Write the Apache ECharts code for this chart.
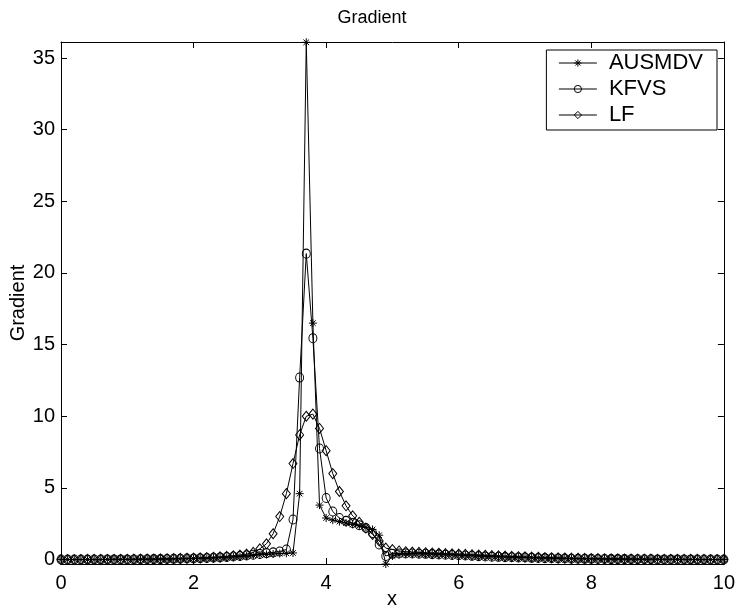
<!DOCTYPE html>
<html><head><meta charset="utf-8">
<script src="https://cdn.jsdelivr.net/npm/echarts@6/dist/echarts.min.js"></script>
<style>html,body{margin:0;padding:0;background:#fff}#c{width:738px;height:614px}</style>
</head><body><div id="c"></div>
<script>
var xs = [0,0.1,0.2,0.3,0.4,0.5,0.6,0.7,0.8,0.9,1,1.1,1.2,1.3,1.4,1.5,1.6,1.7,1.8,1.9,2,2.1,2.2,2.3,2.4,2.5,2.6,2.7,2.8,2.9,3,3.1,3.2,3.3,3.4,3.5,3.6,3.7,3.8,3.9,4,4.1,4.2,4.3,4.4,4.5,4.6,4.7,4.8,4.9,5,5.1,5.2,5.3,5.4,5.5,5.6,5.7,5.8,5.9,6,6.1,6.2,6.3,6.4,6.5,6.6,6.7,6.8,6.9,7,7.1,7.2,7.3,7.4,7.5,7.6,7.7,7.8,7.9,8,8.1,8.2,8.3,8.4,8.5,8.6,8.7,8.8,8.9,9,9.1,9.2,9.3,9.4,9.5,9.6,9.7,9.8,9.9,10];
var ausmdv = [0,0,0,0,0,0,0,0.01,0.01,0.01,0.01,
  0.01,0.02,0.02,0.02,0.03,0.03,0.04,0.05,0.06,0.07,
  0.08,0.09,0.11,0.13,0.15,0.18,0.21,0.25,0.29,0.33,
  0.36,0.39,0.42,0.44,0.46,
  4.6,36.1,16.5,3.8,2.9,2.75,2.65,2.55,2.45,2.35,2.25,2.1,1.7,-0.31,
  0.25,0.35,0.4,0.42,0.42,0.41,0.4,0.38,0.36,0.34,0.32,
  0.3,0.28,0.26,0.24,0.22,0.2,0.19,0.17,0.16,0.15,
  0.13,0.12,0.11,0.1,0.09,0.08,0.07,0.06,0.06,0.05,
  0.05,0.04,0.04,0.03,0.03,0.03,0.02,0.02,0.02,0.02,
  0.01,0.01,0.01,0.01,0.01,0.01,0,0,0,0];
var kfvs = [0,0,0,0,0,0,0,0.01,0.01,0.01,0.01,
  0.01,0.02,0.02,0.03,0.03,0.04,0.05,0.06,0.07,0.08,
  0.09,0.11,0.13,0.15,0.18,0.21,0.25,0.29,0.34,0.39,
  0.45,0.5,0.56,0.7,2.8,
  12.7,21.35,15.45,7.75,4.3,3.35,2.9,2.7,2.55,2.4,2.2,1.85,1.05,0.25,
  0.4,0.42,0.43,0.42,0.41,0.4,0.38,0.36,0.34,0.32,0.3,
  0.28,0.26,0.24,0.22,0.2,0.19,0.17,0.16,0.15,0.14,
  0.12,0.11,0.1,0.09,0.08,0.07,0.06,0.06,0.05,0.05,
  0.04,0.04,0.03,0.03,0.03,0.02,0.02,0.02,0.02,0.01,
  0.01,0.01,0.01,0.01,0.01,0,0,0,0,0];
var lf = [0,0,0,0,0.01,0.01,0.01,0.01,0.02,0.02,0.02,
  0.03,0.03,0.04,0.04,0.05,0.06,0.07,0.08,0.09,0.1,
  0.12,0.14,0.16,0.19,0.22,0.26,0.31,0.38,0.5,0.75,
  1.1,1.8,3.0,4.6,6.7,
  8.7,10.0,10.15,9.15,7.6,6.0,4.75,3.75,3.05,2.6,2.2,1.75,1.3,0.8,
  0.7,0.6,0.55,0.52,0.5,0.48,0.46,0.44,0.42,0.4,0.38,
  0.36,0.34,0.32,0.3,0.28,0.26,0.24,0.22,0.2,0.19,
  0.17,0.16,0.14,0.13,0.12,0.11,0.1,0.09,0.08,0.07,
  0.07,0.06,0.05,0.05,0.04,0.04,0.03,0.03,0.03,0.02,
  0.02,0.02,0.02,0.01,0.01,0.01,0.01,0,0,0];
var seriesNames = ['AUSMDV','KFVS','LF'];
var xTicks = [0,2,4,6,8,10];
var yTicks = [0,5,10,15,20,25,30,35];

function pairs(v){ return xs.map(function(x,i){ return [x, v[i]]; }); }
var FONT = '"Liberation Sans", Arial, Helvetica, sans-serif';
var chart = echarts.init(document.getElementById('c'), null, {renderer:'canvas'});
var tickCommon = {show:true, inside:true, length:6, lineStyle:{color:'#000', width:1}};
var lineCommon = {show:true, onZero:false, lineStyle:{color:'#000', width:1}};
var asterisk = 'path://M0,-4L0,4M-4,0L4,0M-2.8,-2.8L2.8,2.8M-2.8,2.8L2.8,-2.8';
var symbols = [asterisk, 'circle', 'diamond'];
var sizes = [8, [8,9], [8,10]];
function mk(i, data){
  return {name:seriesNames[i], type:'line', data:pairs(data), symbol:symbols[i], symbolSize:sizes[i],
    showAllSymbol:true, animation:false,
    lineStyle:{color:'#000', width:1},
    itemStyle:{color:'rgba(0,0,0,0)', borderColor:'#000', borderWidth:1},
    emphasis:{disabled:true}};
}
chart.setOption({
  animation:false,
  backgroundColor:'#fff',
  textStyle:{fontFamily:FONT},
  grid:{left:61, top:42, right:14, bottom:50},
  legend:{
    data:seriesNames,
    orient:'vertical', right:21, top:50,
    backgroundColor:'#fff', borderColor:'#000', borderWidth:1, borderRadius:0,
    padding:[2,14,4,12], itemGap:4, itemWidth:38, itemHeight:9,
    lineStyle:{color:'#000', width:1},
    itemStyle:{color:'rgba(0,0,0,0)', borderColor:'#000', borderWidth:1},
    textStyle:{fontFamily:FONT, fontSize:22, color:'#000', lineHeight:22, padding:[0,0,0,7]}
  },
  xAxis:[
    {type:'value', min:0, max:10, position:'bottom',
     axisLine:lineCommon, axisTick:Object.assign({customValues:xTicks}, tickCommon), splitLine:{show:false},
     axisLabel:{customValues:xTicks, color:'#000', fontSize:20, fontFamily:FONT, margin:9}},
    {type:'value', min:0, max:10, position:'top',
     axisLine:lineCommon, axisTick:Object.assign({customValues:xTicks}, tickCommon), splitLine:{show:false},
     axisLabel:{show:false}}
  ],
  yAxis:[
    {type:'value', min:-0.31, max:36.12, position:'left',
     axisLine:lineCommon, axisTick:Object.assign({customValues:yTicks}, tickCommon), splitLine:{show:false},
     axisLabel:{customValues:yTicks, color:'#000', fontSize:20, fontFamily:FONT, margin:6}},
    {type:'value', min:-0.31, max:36.12, position:'right',
     axisLine:lineCommon, axisTick:Object.assign({customValues:yTicks}, tickCommon), splitLine:{show:false},
     axisLabel:{show:false}}
  ],
  graphic:[
    {type:'text', x:372, y:18, style:{text:'Gradient', font:'18px '+FONT, fill:'#000', align:'center', verticalAlign:'middle'}},
    {type:'text', x:392, y:599, style:{text:'x', font:'20px '+FONT, fill:'#000', align:'center', verticalAlign:'middle'}},
    {type:'text', x:18, y:303, rotation:Math.PI/2, style:{text:'Gradient', font:'20px '+FONT, fill:'#000', align:'center', verticalAlign:'middle'}}
  ],
  series:[ mk(0, ausmdv), mk(1, kfvs), mk(2, lf) ]
});
</script></body></html>
